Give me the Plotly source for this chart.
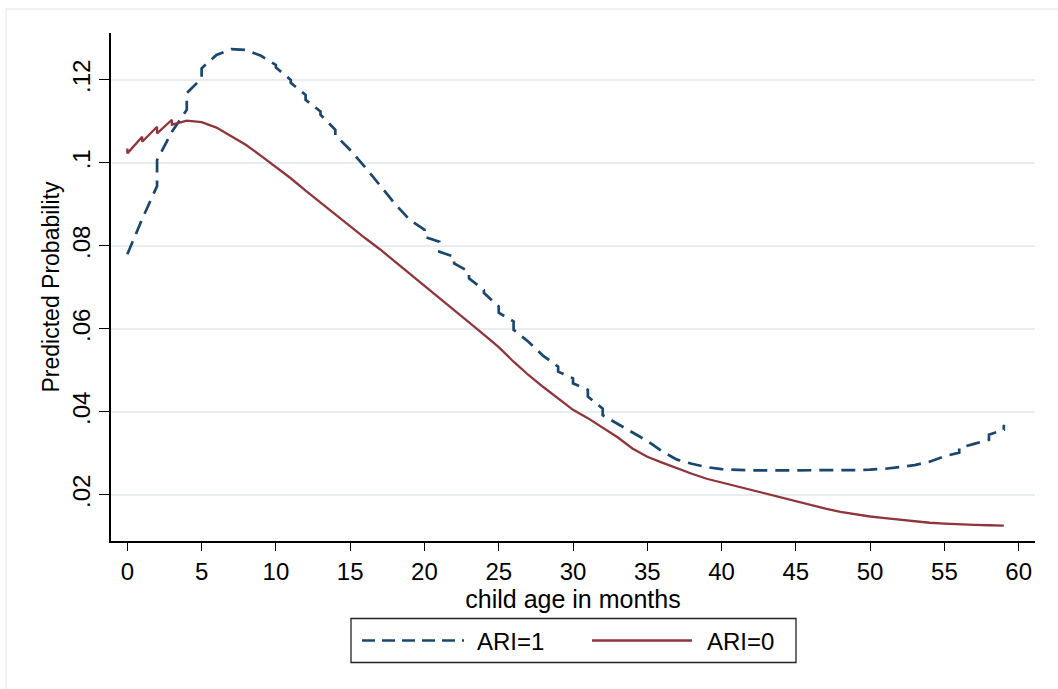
import plotly.graph_objects as go

# Predicted probability by child age (months), by ARI status
ari1_age = [0, 1, 2, 2, 3, 4, 4, 5, 5, 6, 7, 8, 9, 10, 10, 11, 11, 12, 12, 13, 13,
            14, 14, 15, 16, 17, 18, 19, 20, 20, 21, 21, 22, 22, 23, 23, 24, 24,
            25, 25, 26, 26, 27, 28, 29, 29, 30, 30, 31, 31, 32, 32, 33, 34, 35,
            36, 37, 38, 39, 40, 41, 42, 43, 44, 45, 46, 47, 48, 49, 50, 51, 52,
            53, 54, 55, 56, 56, 57, 58, 58, 59, 59]
ari1_prob = [.0780, .0865, .0944, .1007, .1075, .1128, .1168, .1204, .1228, .1260,
             .1274, .1272, .1258, .1236, .1230, .1200, .1193, .1164, .1152, .1124,
             .1116, .1080, .1067, .1031, .0990, .0947, .0902, .0863, .0839, .0822,
             .0810, .0786, .0774, .0758, .0738, .0722, .0694, .0687, .0654, .0639,
             .0618, .0598, .0569, .0535, .0509, .0497, .0481, .0469, .0453, .0437,
             .0408, .0392, .0371, .0350, .0330, .0305, .0285, .0275, .0267, .0262,
             .0260, .0259, .0259, .0259, .0259, .0259, .0259, .0260, .0260, .0261,
             .0263, .0267, .0272, .0280, .0293, .0302, .0313, .0323, .0333, .0345,
             .0357, .0369]

ari0_age = [0, 0, 1, 1, 2, 2, 3, 3, 4, 5, 6, 7, 8, 9, 10, 11, 12, 13, 14, 15, 16,
            17, 18, 19, 20, 21, 22, 23, 24, 25, 26, 27, 28, 29, 30, 31, 32, 33,
            34, 35, 36, 37, 38, 39, 40, 41, 42, 43, 44, 45, 46, 47, 48, 49, 50,
            51, 52, 53, 54, 55, 56, 57, 58, 59]
ari0_prob = [.1035, .1023, .1063, .1051, .1087, .1071, .1104, .1092, .1102, .1098,
             .1085, .1065, .1043, .1017, .0990, .0963, .0933, .0904, .0875, .0847,
             .0819, .0792, .0763, .0734, .0704, .0675, .0646, .0616, .0586, .0556,
             .0521, .0489, .0460, .0433, .0405, .0385, .0363, .0339, .0312, .0292,
             .0278, .0264, .0251, .0239, .0230, .0220, .0212, .0202, .0193, .0184,
             .0175, .0167, .0159, .0153, .0148, .0144, .0140, .0137, .0133, .0131,
             .0129, .0128, .0127, .0126]

x_ticks = list(range(0, 61, 5))
y_ticks = [0.02, 0.04, 0.06, 0.08, 0.10, 0.12]
y_tick_text = [".02", ".04", ".06", ".08", ".1", ".12"]

series_names = ["ARI=1", "ARI=0"]
NAVY = "#1a476f"
MAROON = "#90353b"
GRID = "#e6eef0"
FONT = "Liberation Sans, Arial, sans-serif"

W, H = 1058, 689
ML, MR, MT, MB = 111, 23, 33, 148
PW, PH = W - ML - MR, H - MT - MB


def px(x):
    return (x - ML) / PW


def py(y):
    return (H - MB - y) / PH


fig = go.Figure()
fig.add_trace(go.Scatter(x=ari1_age, y=ari1_prob, mode="lines", name=series_names[0],
                         line=dict(color=NAVY, width=2.7, dash="14px,8px"),
                         showlegend=False))
fig.add_trace(go.Scatter(x=ari0_age, y=ari0_prob, mode="lines", name=series_names[1],
                         line=dict(color=MAROON, width=2.3),
                         showlegend=False))

shapes = [
    # outer graph region border
    dict(type="rect", xref="paper", yref="paper", x0=px(6), x1=px(1075),
         y0=py(710), y1=py(9), line=dict(color="#e9eff1", width=1.5), layer="below"),
    # legend box
    dict(type="rect", xref="paper", yref="paper", x0=px(351), x1=px(796),
         y0=py(662.5), y1=py(618.5), line=dict(color="#222222", width=1.3),
         fillcolor="white"),
    dict(type="line", xref="paper", yref="paper", x0=px(362), x1=px(464),
         y0=py(640.5), y1=py(640.5),
         line=dict(color=NAVY, width=2.7, dash="13px,7px")),
    dict(type="line", xref="paper", yref="paper", x0=px(592), x1=px(692),
         y0=py(640.5), y1=py(640.5), line=dict(color=MAROON, width=2.3)),
]

annotations = [
    dict(text=series_names[0], xref="paper", yref="paper", x=px(475), y=py(641),
         xanchor="left", yanchor="middle", showarrow=False,
         font=dict(family=FONT, size=24, color="black")),
    dict(text=series_names[1], xref="paper", yref="paper", x=px(705), y=py(641),
         xanchor="left", yanchor="middle", showarrow=False,
         font=dict(family=FONT, size=24, color="black")),
]

fig.update_layout(
    width=W, height=H,
    margin=dict(l=ML, r=MR, t=MT, b=MB),
    paper_bgcolor="white", plot_bgcolor="white",
    font=dict(family=FONT, size=23, color="black"),
    shapes=shapes, annotations=annotations,
    showlegend=False,
    xaxis=dict(range=[-1.1, 61.1], tickvals=x_ticks, ticks="outside", ticklen=8,
               tickwidth=1.3, tickcolor="black", showline=True, linecolor="black",
               linewidth=1.5, showgrid=False, zeroline=False,
               tickfont=dict(size=24),
               title=dict(text="child age in months", font=dict(size=25), standoff=0)),
    yaxis=dict(range=[0.0089, 0.1313], tickvals=y_ticks, ticktext=y_tick_text,
               tickangle=-90, ticks="outside", ticklen=10, tickwidth=1.3,
               tickcolor="black", showline=True, linecolor="black", linewidth=1.5,
               showgrid=True, gridcolor=GRID, gridwidth=2, zeroline=False,
               tickfont=dict(size=24),
               title=dict(text="Predicted Probability", font=dict(size=23), standoff=2)),
)

fig.write_html("out.html")
